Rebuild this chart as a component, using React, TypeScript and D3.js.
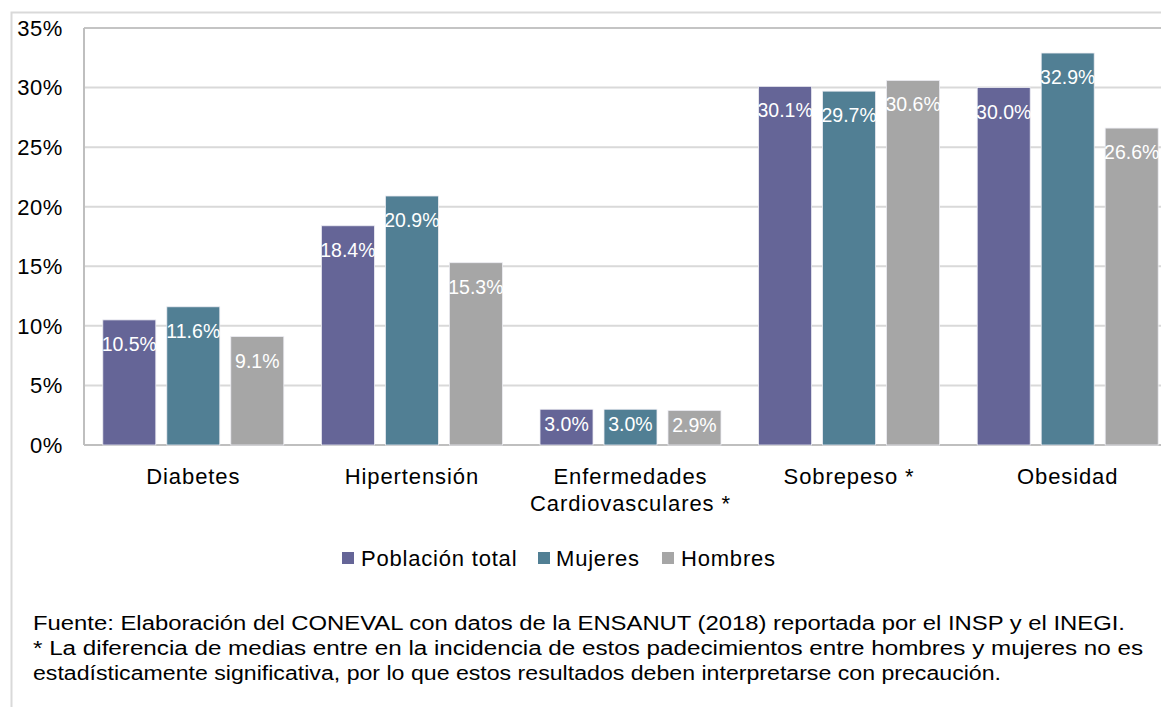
import React from "react";
import * as d3 from "d3";

const categories: string[][] = [
  ["Diabetes"],
  ["Hipertensión"],
  ["Enfermedades", "Cardiovasculares *"],
  ["Sobrepeso *"],
  ["Obesidad"],
];
const categoryKeys = ["Diabetes", "Hipertensión", "Enfermedades Cardiovasculares *", "Sobrepeso *", "Obesidad"];
const seriesNames = ["Población total", "Mujeres", "Hombres"];
const poblacionTotal = [10.5, 18.4, 3.0, 30.1, 30.0];
const mujeres = [11.6, 20.9, 3.0, 29.7, 32.9];
const hombres = [9.1, 15.3, 2.9, 30.6, 26.6];
const seriesValues = [poblacionTotal, mujeres, hombres];
const seriesColors = ["#656597", "#517F94", "#A6A6A6"];
const yTicks = [0, 5, 10, 15, 20, 25, 30, 35];
const footerLines = [
  "Fuente: Elaboración  del CONEVAL  con datos de la ENSANUT  (2018) reportada por el INSP  y el INEGI.",
  "* La diferencia de medias  entre en la incidencia  de estos padecimientos  entre hombres  y mujeres  no es",
  "estadísticamente  significativa, por lo que estos resultados deben interpretarse con precaución.",
];
const footerWidths = [1092, 1110, 968];

const FONT = "'Liberation Sans', Arial, sans-serif";

export default function App() {
  const W = 1161;
  const H = 707;
  const plotLeft = 84;
  const plotRight = 1177;
  const plotTop = 28;
  const plotBottom = 445;

  const x0 = d3.scaleBand<string>().domain(categoryKeys).range([plotLeft, plotRight]).paddingInner(0).paddingOuter(0);
  const x1 = d3.scaleBand<string>().domain(seriesNames).range([0, x0.bandwidth()]).paddingInner(0.172).paddingOuter(0.294);
  const y = d3.scaleLinear().domain([0, 35]).range([plotBottom, plotTop]);

  const legendItems = [
    { name: seriesNames[0], sx: 342, tx: 361 },
    { name: seriesNames[1], sx: 538, tx: 556 },
    { name: seriesNames[2], sx: 662, tx: 681 },
  ];

  return (
    <svg
      width={W}
      height={H}
      style={{ position: "absolute", left: 0, top: 0, background: "#fff" }}
      fontFamily={FONT}
    >
      <rect x={0} y={0} width={W} height={H} fill="#fff" />
      {/* outer frame */}
      <rect x={11.5} y={12.5} width={W + 20} height={H + 20} fill="none" stroke="#d9d9d9" strokeWidth={2} />

      {/* gridlines */}
      {yTicks.map((t) => (
        <line key={t} x1={plotLeft} x2={plotRight} y1={y(t)} y2={y(t)} stroke="#d9d9d9" strokeWidth={2} />
      ))}
      {/* plot border */}
      <line x1={plotLeft} x2={plotRight} y1={plotTop} y2={plotTop} stroke="#c4c4c4" strokeWidth={2} />
      <line x1={plotLeft} x2={plotLeft} y1={plotTop} y2={plotBottom} stroke="#bfbfbf" strokeWidth={2} />
      <line x1={plotLeft} x2={plotRight} y1={plotBottom} y2={plotBottom} stroke="#bfbfbf" strokeWidth={2} />

      {/* y tick labels */}
      {yTicks.map((t) => (
        <text key={t} x={63} y={y(t)} dy="0.36em" textAnchor="end" fontSize={22} fill="#000" letterSpacing={0.6}>
          {t}%
        </text>
      ))}

      {/* bars */}
      {categoryKeys.map((c, ci) => (
        <g key={c} transform={`translate(${x0(c)},0)`}>
          {seriesNames.map((s, si) => {
            const v = seriesValues[si][ci];
            const bx = x1(s)!;
            const top = y(v);
            const bw = x1.bandwidth();
            const h = plotBottom - top;
            const labelY = h < 45 ? (top + plotBottom) / 2 + 4 : top + 31;
            return (
              <g key={s}>
                <rect x={bx} y={top} width={bw} height={h} fill={seriesColors[si]} stroke="#ececf2" strokeWidth={0.8} />
                <text x={bx + bw / 2} y={labelY} textAnchor="middle" fontSize={19.5} fill="#fff">
                  {v.toFixed(1)}%
                </text>
              </g>
            );
          })}
        </g>
      ))}

      {/* category labels */}
      {categoryKeys.map((c, ci) => (
        <text key={c} x={x0(c)! + x0.bandwidth() / 2} textAnchor="middle" fontSize={22} fill="#000" letterSpacing={0.9}>
          {categories[ci].map((ln, li) => (
            <tspan key={li} x={x0(c)! + x0.bandwidth() / 2} y={484 + li * 27}>
              {ln}
            </tspan>
          ))}
        </text>
      ))}

      {/* legend */}
      {legendItems.map((it, i) => (
        <g key={it.name}>
          <rect x={it.sx} y={552} width={12} height={12} fill={seriesColors[i]} />
          <text x={it.tx} y={566} fontSize={22} fill="#000" letterSpacing={0.8}>
            {it.name}
          </text>
        </g>
      ))}

      {/* footer */}
      {footerLines.map((ln, i) => (
        <text
          key={i}
          x={33}
          y={630 + i * 25}
          fontSize={19.5}
          fill="#000"
          textLength={footerWidths[i]}
          lengthAdjust="spacingAndGlyphs"
        >
          {ln}
        </text>
      ))}
    </svg>
  );
}
